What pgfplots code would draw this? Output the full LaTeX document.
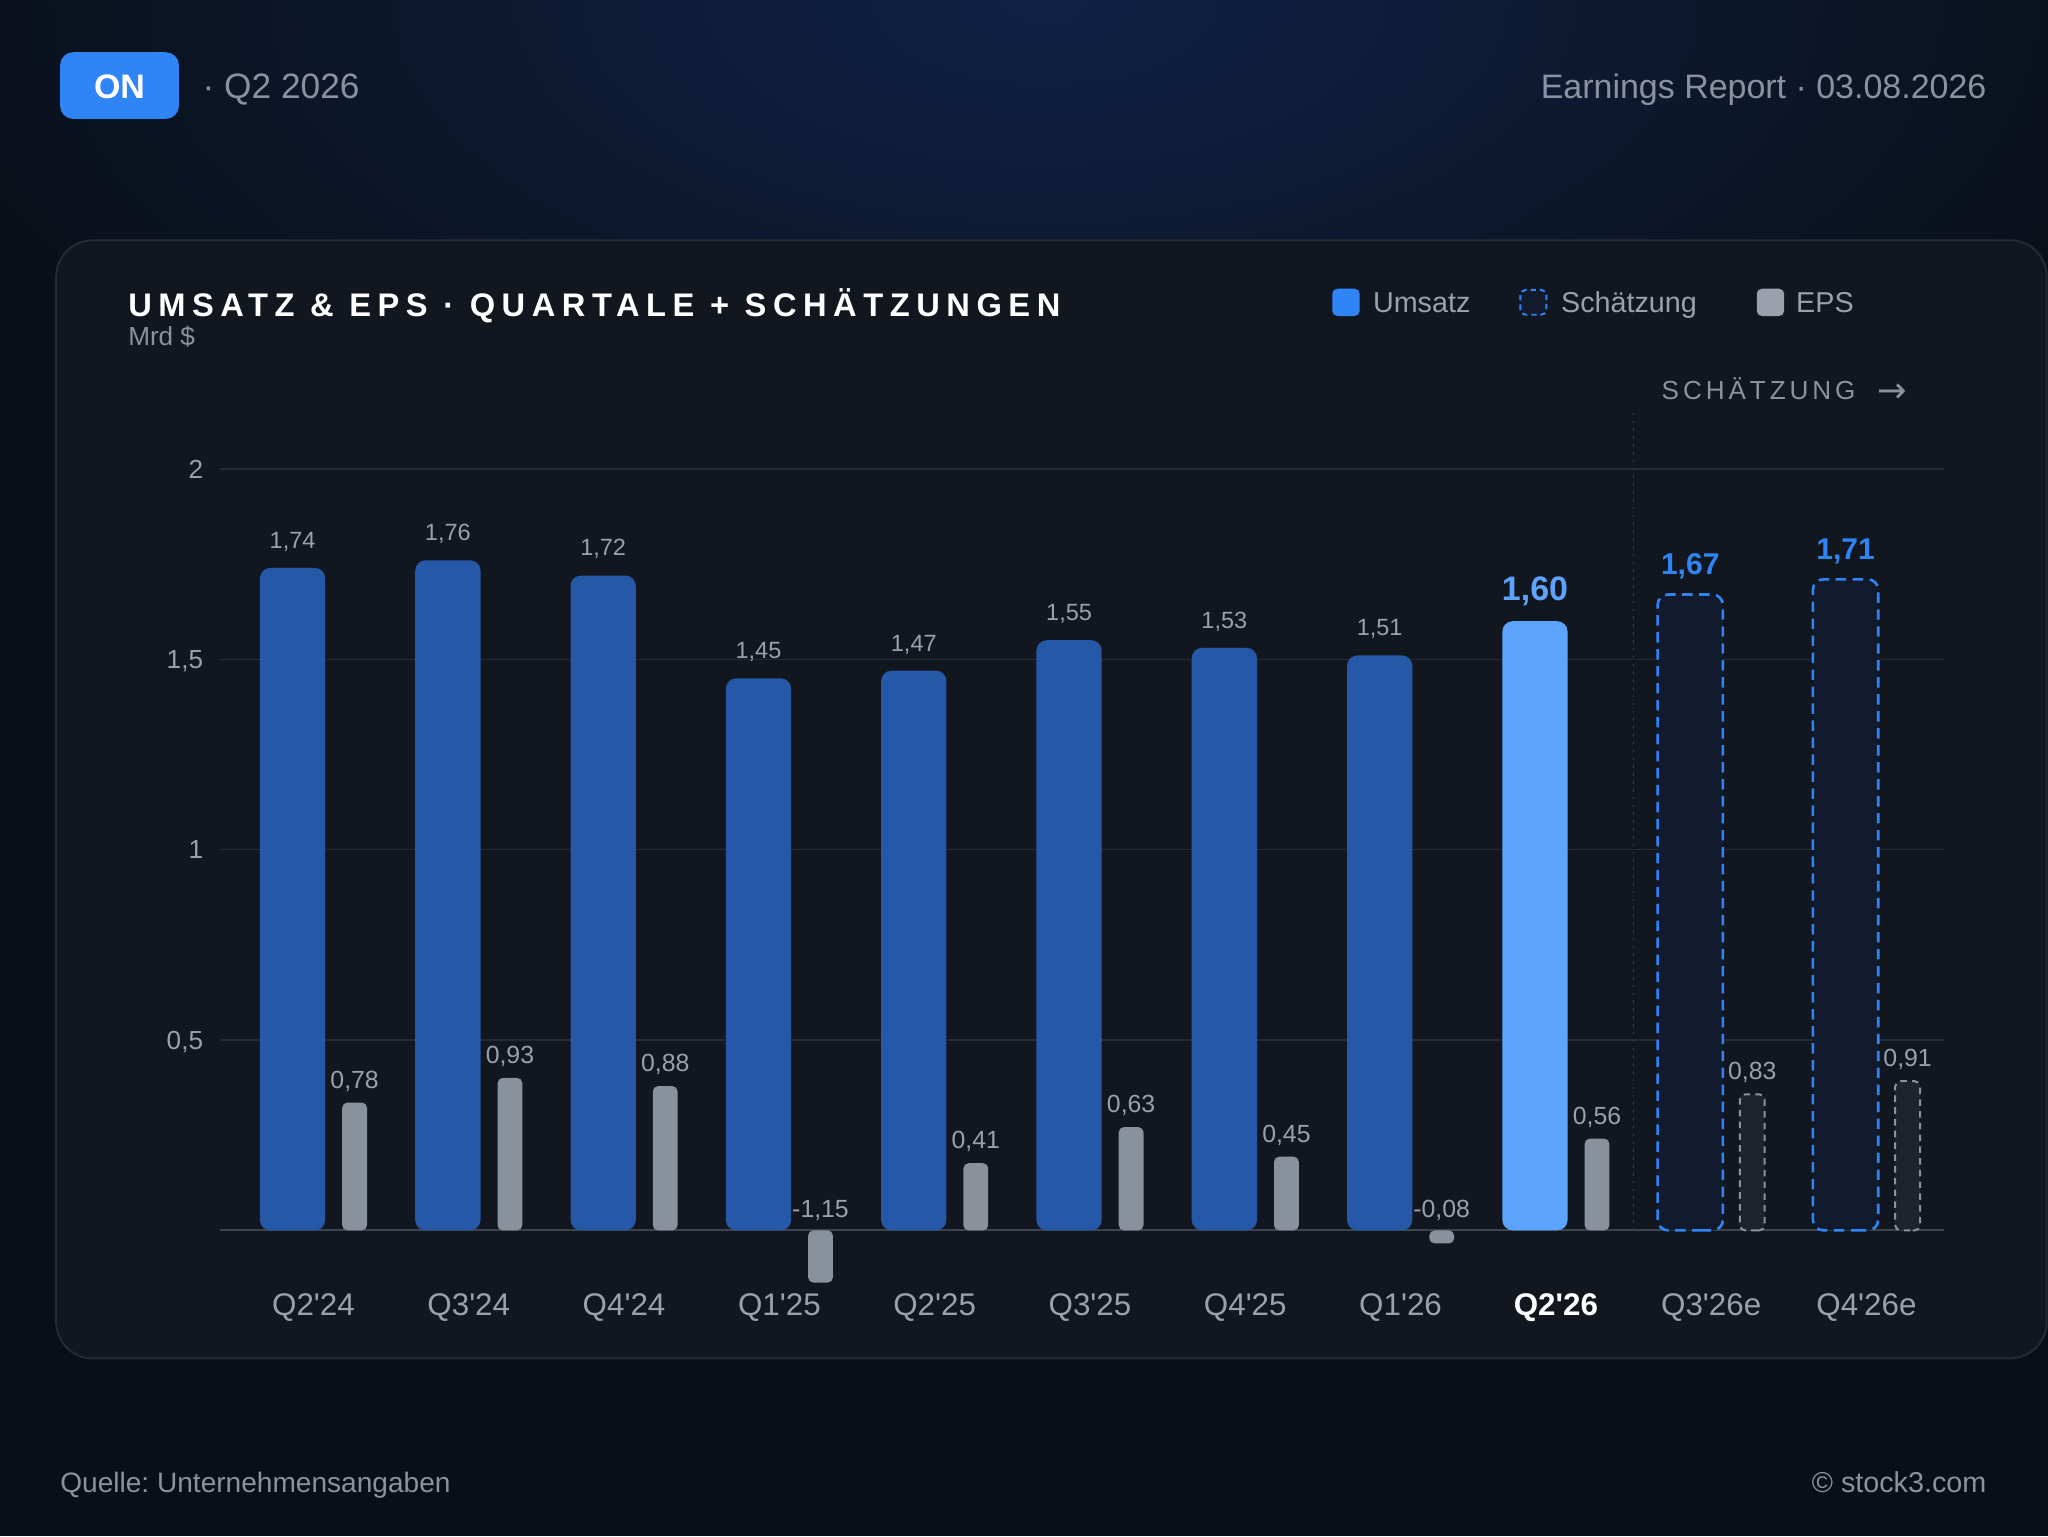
\documentclass[border=0pt]{standalone}
\usepackage{pgfplots}
\pgfplotsset{compat=1.18}
\usepackage{fontspec}
\setmainfont{Liberation Sans}
\newfontfamily\dejavu{DejaVu Sans}
\frenchspacing
\definecolor{bg}{HTML}{0A0E16}
\definecolor{glow}{HTML}{0F2245}
\definecolor{card}{HTML}{12171F}
\definecolor{cardborder}{HTML}{242A35}
\definecolor{badge}{HTML}{2F84F6}
\definecolor{hdrgray}{HTML}{8A92A0}
\definecolor{lblgray}{HTML}{9AA1AC}
\definecolor{revblue}{HTML}{2558A6}
\definecolor{hlblue}{HTML}{5CA3FD}
\definecolor{estblue}{HTML}{2F84F6}
\definecolor{estfill}{HTML}{111B2D}
\definecolor{epsgray}{HTML}{89919D}
\definecolor{epsestfill}{HTML}{1F232B}
\definecolor{epsestline}{HTML}{8C919B}
\definecolor{gridc}{HTML}{252B36}
\definecolor{basec}{HTML}{3E444F}
\definecolor{sepc}{HTML}{363C47}
\newcommand{\q}{\textquotesingle}
\newcommand{\fs}[1]{\fontsize{#1}{#1}\selectfont}
\newcommand{\fmt}{\pgfmathprintnumber[fixed,fixed zerofill,precision=2,use comma,assume math mode=true]{\pgfplotspointmeta}}
% rectangles built from line segments, so that rounded corners act on bars
\makeatletter
\newdimen\rr@x \newdimen\rr@y \newdimen\rr@w \newdimen\rr@h
\def\pgfpathrectangle#1#2{%
  \pgf@process{#1}\rr@x=\pgf@x \rr@y=\pgf@y
  \pgf@process{#2}\rr@w=\pgf@x \rr@h=\pgf@y
  \pgfpathmoveto{\pgfqpoint{\dimexpr\rr@x+0.5\rr@w\relax}{\rr@y}}%
  \pgfpathlineto{\pgfqpoint{\dimexpr\rr@x+\rr@w\relax}{\rr@y}}%
  \pgfpathlineto{\pgfqpoint{\dimexpr\rr@x+\rr@w\relax}{\dimexpr\rr@y+\rr@h\relax}}%
  \pgfpathlineto{\pgfqpoint{\rr@x}{\dimexpr\rr@y+\rr@h\relax}}%
  \pgfpathlineto{\pgfqpoint{\rr@x}{\rr@y}}%
  \pgfpathclose}
\makeatother
\begin{document}
\begin{tikzpicture}
\path[use as bounding box] (0pt,0pt) rectangle (1568pt,1176pt);
\begin{scope}[x=1pt,y=1pt]
\fill[bg] (0,0) rectangle (1568,1176);
\begin{scope}
\clip (0,0) rectangle (1568,1176);
\shade[inner color=glow, outer color=bg] (800,1176) ellipse (950 and 460);
\end{scope}
\fill[card, draw=cardborder, line width=1.5pt, rounded corners=28pt] (43,136) rectangle (1567,992);
\end{scope}

% ---------- revenue axis ----------
\begin{axis}[
  at={(168.66pt,194pt)}, anchor=south west,
  x=118.9pt, y=291.5pt,
  xmin=-0.6, xmax=10.5, ymin=-0.1372, ymax=2.2,
  axis line style={draw=none},
  major tick length=0pt,
  ytick={0.5,1,1.5,2},
  ymajorgrids,
  major grid style={gridc, line width=1pt},
  extra y ticks={0}, extra y tick labels={},
  extra y tick style={ymajorgrids=true, major grid style={basec, line width=1.5pt}},
  /pgf/number format/use comma,
  /pgf/number format/assume math mode=true,
  yticklabel style={font=\fs{20}, text=lblgray, anchor=base east, inner sep=0pt, xshift=-13pt, yshift=-7pt},
  xtick={0,1,2,3,4,5,6,7,8,9,10},
  xticklabels={Q2\q24,Q3\q24,Q4\q24,Q1\q25,Q2\q25,Q3\q25,Q4\q25,Q1\q26,{\bfseries\color{white}Q2\q26},Q3\q26e,Q4\q26e},
  xticklabel style={font=\fs{24}, text=lblgray, anchor=base, inner sep=0pt, yshift=-25.5pt},
]
\addplot[sepc, line width=1.2pt, dash pattern=on 2pt off 4pt, mark=none, forget plot]
  coordinates {(8.5,0) (8.5,2.15)};
\addplot[ybar, bar width=50pt, bar shift=-16pt, fill=revblue, draw=none, rounded corners=8pt,
  nodes near coords={\fmt},
  every node near coord/.append style={font=\fs{18}, text=lblgray, anchor=base, inner sep=0pt, xshift=-16pt, yshift=15pt}]
  coordinates {(0,1.74) (1,1.76) (2,1.72) (3,1.45) (4,1.47) (5,1.55) (6,1.53) (7,1.51)};
\addplot[ybar, bar width=50pt, bar shift=-16pt, fill=hlblue, draw=none, rounded corners=8pt,
  nodes near coords={\fmt},
  every node near coord/.append style={font=\fs{26}\bfseries, text=hlblue, anchor=base, inner sep=0pt, xshift=-16pt, yshift=16pt}]
  coordinates {(8,1.60)};
\addplot[ybar, bar width=50pt, bar shift=-16pt, fill=estfill, draw=estblue, line width=2pt,
  dash pattern=on 8pt off 5pt, rounded corners=8pt,
  nodes near coords={\fmt},
  every node near coord/.append style={font=\fs{23}\bfseries, text=estblue, anchor=base, inner sep=0pt, xshift=-16pt, yshift=15pt}]
  coordinates {(9,1.67) (10,1.71)};
\end{axis}

% ---------- EPS axis ----------
\begin{axis}[
  at={(168.66pt,194pt)}, anchor=south west,
  x=118.9pt, y=125.5pt,
  xmin=-0.6, xmax=10.5, ymin=-0.3187, ymax=5.11,
  hide axis, clip=false,
]
\addplot[ybar, bar width=19pt, bar shift=31.5pt, fill=epsgray, draw=none, rounded corners=4pt,
  nodes near coords={\fmt},
  every node near coord/.append style={font=\fs{19}, text=lblgray, anchor=base, inner sep=0pt, xshift=31.5pt, yshift=11pt}]
  coordinates {(0,0.78) (1,0.93) (2,0.88) (4,0.41) (5,0.63) (6,0.45) (8,0.56)};
\addplot[ybar, bar width=19pt, bar shift=31.5pt, fill=epsgray, draw=none, rounded corners=4pt,
  restrict y to domain*={-0.3187:10}]
  coordinates {(3,-1.15) (7,-0.08)};
\addplot[ybar, bar width=19pt, bar shift=31.5pt, fill=none, draw=none,
  point meta=explicit,
  nodes near coords={\fmt},
  every node near coord/.append style={font=\fs{19}, text=lblgray, anchor=base, inner sep=0pt, xshift=31.5pt, yshift=10pt}]
  coordinates {(3,0) [-1.15] (7,0) [-0.08]};
\addplot[ybar, bar width=19pt, bar shift=31.5pt, fill=epsestfill, draw=epsestline, line width=1.5pt,
  dash pattern=on 5pt off 4pt, rounded corners=4pt,
  nodes near coords={\fmt},
  every node near coord/.append style={font=\fs{19}, text=lblgray, anchor=base, inner sep=0pt, xshift=31.5pt, yshift=11pt}]
  coordinates {(9,0.83) (10,0.91)};
\end{axis}

% ---------- texts ----------
\begin{scope}[x=1pt,y=1pt]
\fill[badge, rounded corners=10pt] (46,1085) rectangle (137,1136);
\node[font=\fs{26}\bfseries, text=white, anchor=base, inner sep=0pt] at (91.5,1100.7) {ON};
\node[font=\fs{27}, text=hdrgray, anchor=base west, inner sep=0pt] at (155,1100.5) {· Q2 2026};
\node[font=\fs{26}, text=hdrgray, anchor=base east, inner sep=0pt] at (1521,1100.5) {Earnings Report · 03.08.2026};

\node[font=\fs{25}\bfseries\addfontfeature{LetterSpace=20}, text=white, anchor=base west, inner sep=0pt] at (98,934) {UMSATZ \& EPS · QUARTALE + SCHÄTZUNGEN};
\node[font=\fs{20}, text=hdrgray, anchor=base west, inner sep=0pt] at (98,911.5) {Mrd \$};

% legend
\fill[estblue, rounded corners=4pt] (1020,934) rectangle (1041,955);
\node[font=\fs{22}, text=lblgray, anchor=base west, inner sep=0pt] at (1051,937) {Umsatz};
\filldraw[fill=estfill, draw=estblue, line width=1.5pt, dash pattern=on 4pt off 3pt, rounded corners=4pt] (1164,935) rectangle (1184,954);
\node[font=\fs{22}, text=lblgray, anchor=base west, inner sep=0pt] at (1195,937) {Schätzung};
\fill[lblgray, rounded corners=4pt] (1345,934) rectangle (1366,955);
\node[font=\fs{22}, text=lblgray, anchor=base west, inner sep=0pt] at (1375,937) {EPS};

\node[font=\fs{20}\addfontfeature{LetterSpace=15}, text=hdrgray, anchor=base west, inner sep=0pt] at (1272,870) {SCHÄTZUNG};
\node[font=\fs{27}\dejavu, text=hdrgray, anchor=base west, inner sep=0pt] at (1437,868) {→};

% footer
\node[font=\fs{21.5}, text=hdrgray, anchor=base west, inner sep=0pt] at (46,33.5) {Quelle: Unternehmensangaben};
\node[font=\fs{22}, text=hdrgray, anchor=base east, inner sep=0pt] at (1521,33.5) {© stock3.com};
\end{scope}
\end{tikzpicture}
\end{document}
